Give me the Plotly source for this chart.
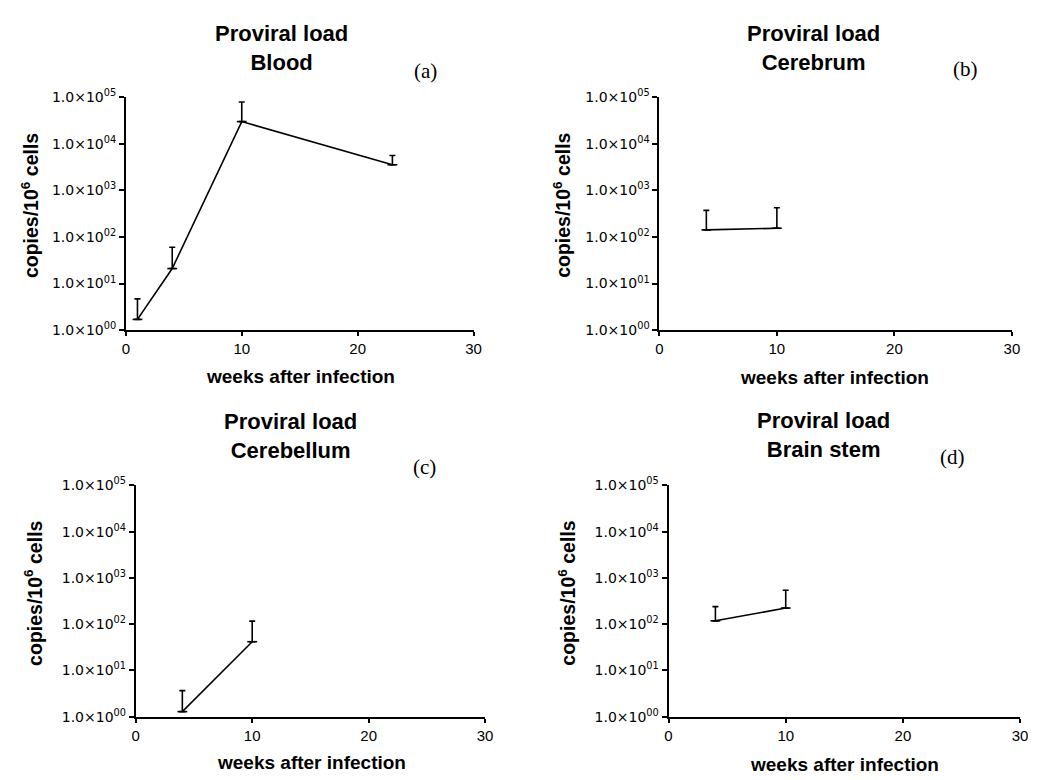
import plotly.graph_objects as go

# ---------------- data ----------------
weeks_blood = [1, 4, 10, 23]
blood_mean = [1.7, 21, 30000, 3550]
blood_upper = [4.7, 60, 79000, 5600]

weeks_cerebrum = [4, 10]
cerebrum_mean = [142, 154]
cerebrum_upper = [373, 425]

weeks_cerebellum = [4, 10]
cerebellum_mean = [1.28, 41.7]
cerebellum_upper = [3.65, 116]

weeks_brainstem = [4, 10]
brainstem_mean = [118, 223]
brainstem_upper = [240, 540]

panel_titles = ["Proviral load<br>Blood", "Proviral load<br>Cerebrum",
                "Proviral load<br>Cerebellum", "Proviral load<br>Brain stem"]
panel_letters = ["(a)", "(b)", "(c)", "(d)"]
x_ticks = [0, 10, 20, 30]
y_ticks = [1, 10, 100, 1000, 10000, 100000]
y_ticktext = ["1.0×10<sup>00</sup>", "1.0×10<sup>01</sup>", "1.0×10<sup>02</sup>",
              "1.0×10<sup>03</sup>", "1.0×10<sup>04</sup>", "1.0×10<sup>05</sup>"]
x_title = "weeks after infection"
y_title = "copies/10<sup>6</sup> cells"

series = [
    (weeks_blood, blood_mean, blood_upper),
    (weeks_cerebrum, cerebrum_mean, cerebrum_upper),
    (weeks_cerebellum, cerebellum_mean, cerebellum_upper),
    (weeks_brainstem, brainstem_mean, brainstem_upper),
]

# ---------------- layout geometry (pixels, page coords) ----------------
W, H = 1038, 780
areas = [
    (123.3, 475.0, 89.3, 327.7),
    (663.0, 1019.7, 89.3, 327.7),
    (133.3, 486.7, 486.7, 723.3),
    (672.3, 1028.0, 486.7, 723.3),
]
title_pos = [(281, 39), (819, 39), (290, 436), (829, 435)]
letter_pos = [(426, 62), (973, 60), (425, 468), (960, 458)]
xtitle_pos = [(300, 375), (840, 376), (311, 770), (850, 772)]
ytitle_pos = [(27, 200), (565, 200), (30, 597), (570, 597)]

def px(x):
    return x / W

def py(y):
    return 1 - y / H

fig = go.Figure()
annotations = []
for i, (xs, ys, ups) in enumerate(series):
    n = "" if i == 0 else str(i + 1)
    fig.add_trace(go.Scatter(
        x=xs, y=ys, mode="lines+markers",
        line=dict(color="black", width=1.6),
        marker=dict(symbol="line-ew-open", size=7, color="black",
                    line=dict(color="black", width=1.6)),
        error_y=dict(type="data", symmetric=False,
                     array=[u - m for u, m in zip(ups, ys)],
                     arrayminus=[0] * len(ys),
                     color="black", thickness=1.6, width=3),
        xaxis="x" + n, yaxis="y" + n, showlegend=False, cliponaxis=False,
    ))
    x0, x1, yt, yb = areas[i]
    fig.update_layout(**{
        "xaxis" + n: dict(
            domain=[px(x0), px(x1)], anchor="y" + n, range=[0, 30],
            tickvals=x_ticks, ticks="outside", ticklen=4, tickwidth=1.5,
            tickcolor="black", showline=True, linecolor="black", linewidth=1.8,
            showgrid=False, zeroline=False,
            tickfont=dict(family="Liberation Sans, Arial", size=15, color="black"),
        ),
        "yaxis" + n: dict(
            domain=[py(yb), py(yt)], anchor="x" + n, type="log", range=[0, 5],
            tickvals=y_ticks, ticktext=y_ticktext, ticks="outside", ticklen=5,
            tickwidth=1.5, tickcolor="black", showline=True, linecolor="black",
            linewidth=1.8, showgrid=False, zeroline=False,
            tickfont=dict(family="DejaVu Sans", size=14, color="black"),
        ),
    })
    annotations.append(dict(
        text="<b>" + panel_titles[i].replace("<br>", "</b><br><b>") + "</b>",
        x=px(title_pos[i][0]), y=py(title_pos[i][1]), xref="paper", yref="paper",
        showarrow=False, xanchor="center", yanchor="middle",
        font=dict(family="Liberation Sans, Arial", size=22, color="black"),
    ))
    annotations.append(dict(
        text=panel_letters[i], x=px(letter_pos[i][0]), y=py(letter_pos[i][1]),
        xref="paper", yref="paper", showarrow=False, xanchor="center", yanchor="middle",
        font=dict(family="Liberation Serif, Times New Roman", size=21, color="black"),
    ))
    annotations.append(dict(
        text="<b>" + x_title + "</b>", x=px(xtitle_pos[i][0]), y=py(xtitle_pos[i][1]),
        xref="paper", yref="paper", showarrow=False, xanchor="center", yanchor="middle",
        font=dict(family="Liberation Sans, Arial", size=19, color="black"),
    ))
    annotations.append(dict(
        text="<b>" + y_title + "</b>", x=px(ytitle_pos[i][0]), y=py(ytitle_pos[i][1]),
        xref="paper", yref="paper", showarrow=False, xanchor="center", yanchor="middle",
        textangle=-90,
        font=dict(family="Liberation Sans, Arial", size=19.5, color="black"),
    ))

fig.update_layout(
    width=W, height=H, margin=dict(l=0, r=0, t=0, b=0),
    paper_bgcolor="white", plot_bgcolor="white",
    annotations=annotations,
)

fig.write_html(
    "out.html",
    config={"displayModeBar": False},
    post_script="document.body.style.margin='0';document.body.style.overflow='hidden';",
)
